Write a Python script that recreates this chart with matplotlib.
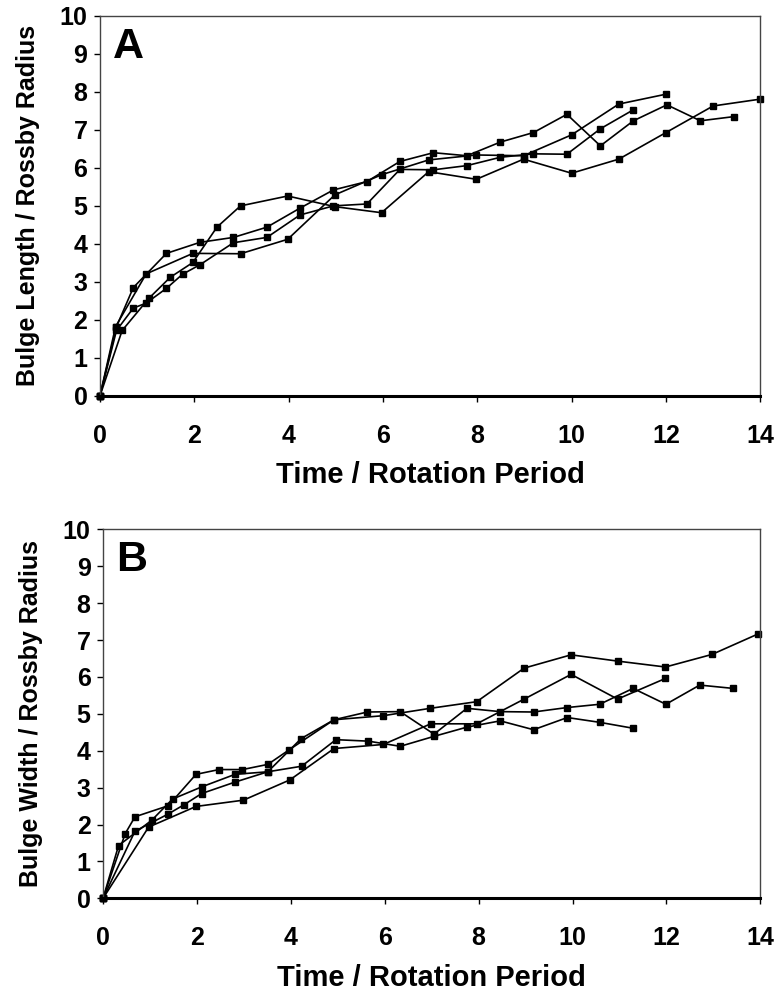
import matplotlib
matplotlib.use('Agg')
import matplotlib.pyplot as plt

plt.rcParams['font.family'] = ['Liberation Sans', 'DejaVu Sans']
plt.rcParams['font.weight'] = 'bold'

# panel A: bulge length, four runs
a1_t = [0, 0.33, 0.98, 1.97, 2.98, 3.98, 4.98, 5.97, 6.97, 7.98, 8.98, 10.0, 11.0, 12.0]
a1_v = [0, 1.82, 3.21, 3.75, 3.74, 4.12, 5.29, 5.82, 6.21, 6.34, 6.32, 6.87, 7.68, 7.94]
a2_t = [0, 0.35, 0.707, 0.98, 1.41, 1.75, 2.12, 2.83, 3.54, 4.24, 4.95, 5.66, 6.36, 7.07, 7.78, 8.49, 9.19, 9.9, 10.61, 11.31]
a2_v = [0, 1.72, 2.31, 2.44, 2.83, 3.20, 3.45, 4.03, 4.17, 4.76, 5.0, 5.05, 5.96, 5.95, 6.06, 6.28, 6.37, 6.36, 7.03, 7.53]
a3_t = [0, 0.35, 0.707, 1.41, 2.12, 2.83, 3.54, 4.24, 4.95, 5.66, 6.36, 7.07, 7.78, 8.49, 9.19, 9.9, 10.61, 11.31, 12.02, 12.73, 13.44]
a3_v = [0, 1.82, 2.85, 3.75, 4.04, 4.17, 4.44, 4.94, 5.42, 5.64, 6.17, 6.40, 6.32, 6.68, 6.93, 7.41, 6.58, 7.24, 7.66, 7.24, 7.35]
a4_t = [0, 0.47, 1.04, 1.49, 1.97, 2.48, 2.98, 3.98, 4.98, 5.97, 6.97, 7.98, 8.98, 10.0, 11.0, 12.0, 13.0, 14.0]
a4_v = [0, 1.72, 2.57, 3.12, 3.51, 4.44, 5.0, 5.26, 4.98, 4.82, 5.90, 5.70, 6.23, 5.86, 6.23, 6.93, 7.63, 7.81]

# panel B: bulge width, four runs
b1_t = [0, 0.97, 1.98, 2.99, 3.98, 4.92, 5.97, 6.98, 7.96, 8.97, 9.97, 10.96, 11.98]
b1_v = [0, 1.93, 2.49, 2.66, 3.21, 4.06, 4.17, 4.73, 4.73, 5.40, 6.07, 5.40, 5.96]
b2_t = [0, 0.68, 1.38, 1.73, 2.10, 2.81, 3.51, 4.23, 4.96, 5.65, 6.33, 7.05, 7.75, 8.46, 9.17, 9.89, 10.58, 11.29]
b2_v = [0, 1.82, 2.28, 2.54, 2.84, 3.15, 3.43, 3.58, 4.30, 4.26, 4.12, 4.39, 4.64, 4.81, 4.57, 4.90, 4.77, 4.61]
b3_t = [0, 0.33, 1.04, 1.48, 2.10, 2.81, 3.51, 4.22, 4.92, 5.63, 6.33, 7.05, 7.75, 8.46, 9.17, 9.88, 10.58, 11.29, 11.99, 12.71, 13.42]
b3_v = [0, 1.43, 2.12, 2.69, 3.02, 3.36, 3.43, 4.33, 4.84, 5.05, 5.06, 4.45, 5.15, 5.06, 5.05, 5.17, 5.26, 5.69, 5.26, 5.78, 5.69]
b4_t = [0, 0.47, 0.68, 1.39, 1.98, 2.47, 2.97, 3.51, 3.97, 4.92, 5.97, 6.97, 7.96, 8.97, 9.97, 10.96, 11.98, 12.97, 13.96]
b4_v = [0, 1.75, 2.21, 2.51, 3.36, 3.49, 3.49, 3.63, 4.03, 4.84, 4.95, 5.15, 5.33, 6.24, 6.60, 6.43, 6.27, 6.61, 7.17]

x_ticks = [0, 2, 4, 6, 8, 10, 12, 14]
y_ticks = list(range(0, 11))


def draw_panel(ax, runs, letter, ylabel):
    for t, v in runs:
        ax.plot(t, v, color='black', linewidth=1.2, marker='s', markersize=4.5,
                markerfacecolor='black', markeredgecolor='black', clip_on=False)
    ax.set_xlim(0, 14)
    ax.set_ylim(0, 10)
    ax.set_xticks(x_ticks)
    ax.set_yticks(y_ticks)
    ax.tick_params(direction='out', length=4, width=1, labelsize=18)
    ax.tick_params(axis='x', pad=16)
    ax.tick_params(axis='y', pad=5)
    for lab in ax.get_xticklabels() + ax.get_yticklabels():
        lab.set_fontweight('bold')
    for side in ['top', 'right', 'left']:
        ax.spines[side].set_linewidth(1.0)
        ax.spines[side].set_color('#444444')
    ax.spines['bottom'].set_linewidth(2.2)
    ax.set_xlabel('Time / Rotation Period', fontsize=21, fontweight='bold', labelpad=10)
    ax.set_ylabel(ylabel, fontsize=18, fontweight='bold', labelpad=14)
    ax.text(0.02, 0.97, letter, transform=ax.transAxes, fontsize=31,
            fontweight='bold', va='top', ha='left')


fig = plt.figure(figsize=(7.75, 9.97), dpi=100)
ax_a = fig.add_axes([0.129, 0.603, 0.852, 0.381])
ax_b = fig.add_axes([0.133, 0.099, 0.848, 0.370])

draw_panel(ax_a, [(a1_t, a1_v), (a2_t, a2_v), (a3_t, a3_v), (a4_t, a4_v)],
           'A', 'Bulge Length / Rossby Radius')
draw_panel(ax_b, [(b1_t, b1_v), (b2_t, b2_v), (b3_t, b3_v), (b4_t, b4_v)],
           'B', 'Bulge Width / Rossby Radius')

fig.savefig('out.png', dpi=100)
